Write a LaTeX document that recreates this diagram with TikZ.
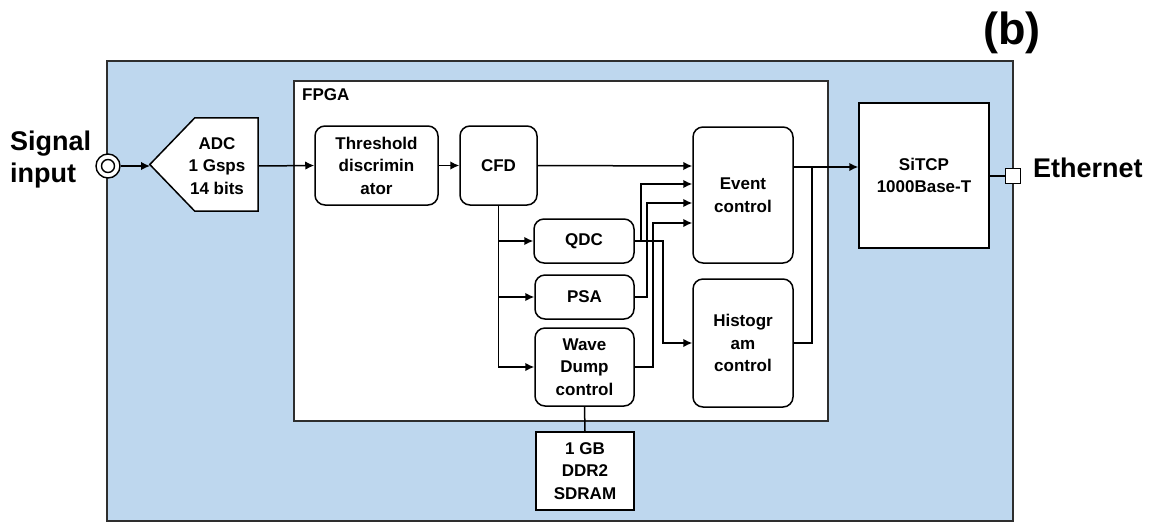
\documentclass[tikz,border=0pt]{standalone}
\usepackage{fontspec}
\setmainfont{Liberation Sans}
\usetikzlibrary{arrows.meta}
\definecolor{boardblue}{HTML}{BED7EE}
\definecolor{edgegrey}{HTML}{2E2E2E}
\tikzset{
  wire/.style={line width=1.5pt, draw=black},
  arr/.style={wire, -{Latex[length=9pt,width=8.5pt]}},
  blk/.style={draw=black, line width=1.5pt, fill=white, rounded corners=10pt,
    align=center, inner sep=0pt, font=\fontsize{17}{22.5}\selectfont\bfseries},
  sqblk/.style={blk, rounded corners=0pt},
  bigtxt/.style={font=\fontsize{27}{32}\selectfont\bfseries, inner sep=0pt}
}
\begin{document}
\begin{tikzpicture}[x=1pt, y=-1pt]
\useasboundingbox (0,0) rectangle (1155,523);

% board and FPGA outlines
\draw[fill=boardblue, draw=edgegrey, line width=1.5pt] (107,61) rectangle (1013,521);
\draw[fill=white, draw=edgegrey, line width=1.5pt] (294,81) rectangle (828,421);
\node[anchor=west, inner sep=0pt, font=\fontsize{17}{20}\selectfont\bfseries] (fpga) at (302,95) {FPGA};

% panel tag
\node[anchor=base, inner sep=0pt, font=\fontsize{45}{50}\selectfont\bfseries] (tag) at (1012,44) {(b)};

% signal input connector
\node[bigtxt, anchor=west, align=left] (siglbl) at (10,160) {Signal\\input};
\node[circle, draw=black, line width=1.4pt, fill=white, minimum size=24pt, inner sep=0pt] (sig) at (108,166) {};
\node[circle, draw=black, line width=1.4pt, minimum size=13pt, inner sep=0pt] (sigin) at (108,166) {};

% ADC
\node[inner sep=0pt, minimum width=108pt, minimum height=93pt] (adc) at (204,164.5) {};
\draw[line width=1.5pt, fill=white] (adc.west) -- ([xshift=45pt]adc.north west) -- (adc.north east)
  -- (adc.south east) -- ([xshift=45pt]adc.south west) -- cycle;
\node[align=center, inner sep=0pt, font=\fontsize{17}{22.5}\selectfont\bfseries] (adctxt) at (217,166) {ADC\\1 Gsps\\14 bits};
\coordinate (adcin) at (150,166);
\coordinate (adcout) at (258,166);

% processing blocks
\node[blk, minimum width=123pt, minimum height=79pt] (thr) at (376.5,165.5) {Threshold\\discrimin\\ator};
\node[blk, minimum width=77pt, minimum height=79pt] (cfd) at (498.5,165.5) {CFD};
\node[blk, minimum width=100pt, minimum height=136pt] (evt) at (743,195) {Event\\control};
\node[blk, minimum width=100pt, minimum height=128pt] (hist) at (743,343) {Histogr\\am\\control};
\node[blk, minimum width=100pt, minimum height=44pt] (qdc) at (584,241) {QDC};
\node[blk, minimum width=99pt, minimum height=44pt] (psa) at (584.5,297) {PSA};
\node[blk, minimum width=99pt, minimum height=78pt] (wave) at (584.5,367) {Wave\\Dump\\control};
\node[sqblk, minimum width=98pt, minimum height=78pt] (ddr) at (585,471) {1 GB\\DDR2\\SDRAM};
\node[sqblk, minimum width=130pt, minimum height=145pt] (sitcp) at (924,175.5) {SiTCP\\1000Base-T};

% Ethernet port
\node[draw=black, line width=1.2pt, fill=white, minimum size=15pt, inner sep=0pt] (eth) at (1013,176) {};
\node[bigtxt, anchor=base west] (ethlbl) at (1033,177) {Ethernet};

% routing points
\path (evt.west) ++(0,-29) coordinate (ein1);
\path (evt.west) ++(0,-11) coordinate (ein2);
\path (evt.west) ++(0,8) coordinate (ein3);
\path (evt.west) ++(0,28) coordinate (ein4);
\path (evt.east) ++(0,-28) coordinate (eout);
\coordinate (qx) at (641,0);
\coordinate (px) at (647,0);
\coordinate (wx) at (653,0);
\coordinate (hx) at (663,0);
\coordinate (jn) at (812,167);

% signal chain
\draw[arr] (sig.east) -- (adcin);
\draw[arr] (adcout) -- (thr.west);
\draw[arr] (thr.east) -- (cfd.west);
\draw[arr] (cfd.east) -- (ein1);
\draw[arr] (cfd.south) |- (qdc.west);
\draw[arr] (cfd.south) |- (psa.west);
\draw[arr] (cfd.south) |- (wave.west);

% results to event control
\draw[arr] (qdc.east) -- (qdc.east -| qx) |- (ein2);
\draw[arr] (psa.east) -- (psa.east -| px) |- (ein3);
\draw[arr] (wave.east) -- (wave.east -| wx) |- (ein4);
\draw[arr] (qdc.east) -- (qdc.east -| hx) |- (hist.west);

% outputs to SiTCP
\draw[arr] (eout) -- (eout -| sitcp.west);
\draw[wire] (hist.east) -| (jn);
\draw[wire] (sitcp.east |- eth.west) -- (eth.west);

% memory link
\draw[wire] (wave.south) -- (ddr.north);
\end{tikzpicture}
\end{document}
